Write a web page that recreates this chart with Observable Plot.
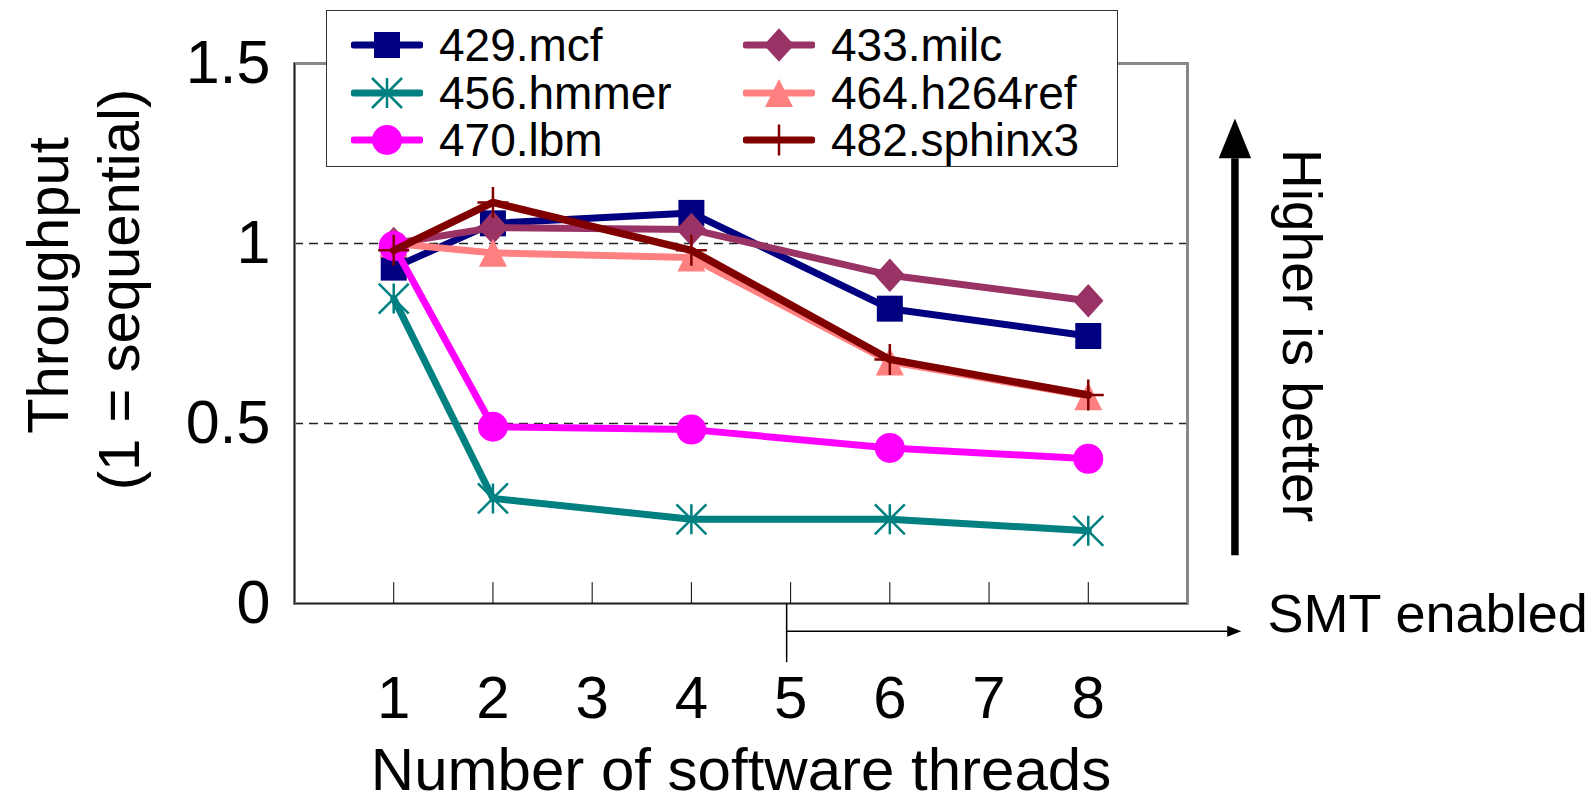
<!DOCTYPE html>
<html>
<head>
<meta charset="utf-8">
<script src="https://cdn.jsdelivr.net/npm/d3@7"></script>
<script src="https://cdn.jsdelivr.net/npm/@observablehq/plot@0.6"></script>
<style>
  html, body { margin: 0; padding: 0; background: #fff; overflow: hidden; }
  #wrap { position: relative; width: 1596px; height: 805px; font-family: "Liberation Sans", Arial, sans-serif; }
  #chart svg { display: block; }
  #legend { position: absolute; left: 326px; top: 10px; width: 792px; height: 157px; box-sizing: border-box;
            border: 1.5px solid #333; background: #fff; }
  .item { position: absolute; height: 48px; display: flex; align-items: center; }
  .item svg { display: block; flex: none; }
  .item span { font-size: 46px; line-height: 48px; color: #000; margin-left: 16px; white-space: nowrap; }
</style>
</head>
<body>
<div id="wrap">
  <div id="chart"></div>
  <div id="legend"></div>
</div>
<script>
// Thread counts measured and the x-axis tick values
const threads = [1, 2, 4, 6, 8];
const xTicks = [1, 2, 3, 4, 5, 6, 7, 8];
const yTicks = [0, 0.5, 1, 1.5];
const gridValues = [0.5, 1];

// Benchmarks (legend order) and throughput relative to sequential
const benchmarks = ["429.mcf", "433.milc", "456.hmmer", "464.h264ref", "470.lbm", "482.sphinx3"];
const mcf    = [0.933, 1.056, 1.085, 0.819, 0.743];
const milc   = [1.000, 1.044, 1.039, 0.912, 0.841];
const hmmer  = [0.847, 0.292, 0.234, 0.234, 0.202];
const h264   = [1.000, 0.974, 0.961, 0.672, 0.576];
const lbm    = [0.993, 0.491, 0.483, 0.432, 0.402];
const sphinx = [0.981, 1.114, 0.981, 0.678, 0.579];
const seriesValues = [mcf, milc, hmmer, h264, lbm, sphinx];

// Styling per series
const colors = ["#000080", "#993366", "#008080", "#FF8080", "#FF00FF", "#800000"];
const lineWidths = [7, 7, 7, 7, 7, 7.5];

// Marker shapes
const rOf = s => Math.sqrt(s / Math.PI);
const squareSym = { draw(c, s) { const r = rOf(s); c.rect(-r, -r, 2 * r, 2 * r); } };
const diamondSym = { draw(c, s) { const r = rOf(s); c.moveTo(0, -r * 1.05); c.lineTo(r * 0.95, 0); c.lineTo(0, r * 1.05); c.lineTo(-r * 0.95, 0); c.closePath(); } };
const circleSym = { draw(c, s) { const r = rOf(s); c.moveTo(r, 0); c.arc(0, 0, r, 0, 2 * Math.PI); c.closePath(); } };
const triangleSym = { draw(c, s) { const r = rOf(s); c.moveTo(0, -r); c.lineTo(r, r); c.lineTo(-r, r); c.closePath(); } };
const asteriskSym = { draw(c, s) { const r = rOf(s); c.moveTo(0, -r); c.lineTo(0, r); c.moveTo(-r, -r); c.lineTo(r, r); c.moveTo(r, -r); c.lineTo(-r, r); } };
const plusSym = { draw(c, s) { const r = rOf(s); c.moveTo(0, -r); c.lineTo(0, r); c.moveTo(-r, 0); c.lineTo(r, 0); } };
const upHead = { draw(c, s) { const r = rOf(s); c.moveTo(0, -r * 2.2); c.lineTo(r * 0.9, 0); c.lineTo(-r * 0.9, 0); c.closePath(); } };
const rightHead = { draw(c, s) { const r = rOf(s); c.moveTo(r * 2.2, 0); c.lineTo(0, -r * 0.85); c.lineTo(0, r * 0.85); c.closePath(); } };

const symbols = [squareSym, diamondSym, asteriskSym, triangleSym, circleSym, plusSym];
const symbolRadius = [13, 16, 15, 14, 15, 15.5];
const filled = [true, true, false, true, true, false];

const font = '"Liberation Sans", Arial, sans-serif';

// One table per benchmark
const tables = benchmarks.map((name, i) =>
  threads.map((t, j) => ({ name, threads: t, value: seriesValues[i][j] }))
);

const seriesMarks = tables.flatMap((rows, i) => [
  Plot.line(rows, { x: "threads", y: "value", stroke: colors[i], strokeWidth: lineWidths[i] }),
  Plot.dot(rows, {
    x: "threads", y: "value", symbol: symbols[i], r: symbolRadius[i],
    fill: filled[i] ? colors[i] : "none",
    stroke: filled[i] ? "none" : colors[i],
    strokeWidth: filled[i] ? 0 : 2.5
  })
]);

// Annotation geometry in chart units
const betterArrow = [{ x: 9.478, y1: 0.134, y2: 1.237 }];
const smtArrow = [{ x1: 4.96, x2: 9.4, y: -0.077, yTick: -0.163 }];

const chart = Plot.plot({
  width: 1596,
  height: 805,
  marginTop: 63,
  marginBottom: 202,
  marginLeft: 294,
  marginRight: 409,
  x: { domain: [0, 9] },
  y: { domain: [0, 1.5] },
  style: { fontFamily: font, fontSize: "60px", background: "transparent", color: "#000", overflow: "visible" },
  marks: [
    Plot.ruleY(gridValues, { stroke: "#222", strokeWidth: 1.3, strokeDasharray: "9,6" }),
    Plot.frame({ stroke: "#888", strokeWidth: 3 }),
    Plot.ruleX([0], { stroke: "#222", strokeWidth: 1.2 }),
    Plot.ruleY([0], { stroke: "#222", strokeWidth: 1.2 }),
    Plot.ruleX(xTicks, { y1: 0, y2: 0.058, stroke: "#000", strokeWidth: 1 }),
    Plot.axisY({ ticks: yTicks, tickSize: 0, tickPadding: 24, fontSize: 61, tickFormat: d => String(d), label: null }),
    Plot.axisX({ ticks: xTicks, tickSize: 0, tickPadding: 72, fontSize: 60, tickFormat: d => String(d), label: null }),
    ...seriesMarks,
    // "Higher is better" arrow
    Plot.link(betterArrow, { x1: "x", x2: "x", y1: "y1", y2: "y2", stroke: "#000", strokeWidth: 7.5 }),
    Plot.dot(betterArrow, { x: "x", y: "y2", symbol: upHead, r: 18, fill: "#000", stroke: "none" }),
    // SMT range marker
    Plot.link(smtArrow, { x1: "x1", x2: "x1", y1: 0, y2: "yTick", stroke: "#000", strokeWidth: 1.5 }),
    Plot.link(smtArrow, { x1: "x1", x2: "x2", y1: "y", y2: "y", stroke: "#000", strokeWidth: 1.5 }),
    Plot.dot(smtArrow, { x: "x2", y: "y", symbol: rightHead, r: 6.4, fill: "#000", stroke: "none" }),
    // Titles and annotations
    Plot.text(["Number of software threads"], { text: d => d, frameAnchor: "bottom", dy: 186, fontSize: 60, fill: "#000" }),
    Plot.text(["Throughput"], { text: d => d, frameAnchor: "left", textAnchor: "middle", dx: -245, dy: -48, rotate: -90, fontSize: 58, fill: "#000" }),
    Plot.text(["(1 = sequential)"], { text: d => d, frameAnchor: "left", textAnchor: "middle", dx: -174, dy: -44, rotate: -90, fontSize: 58, fill: "#000" }),
    Plot.text(["Higher is better"], { text: d => d, frameAnchor: "right", textAnchor: "middle", dx: 113, dy: 2, rotate: 90, fontSize: 55, fill: "#000" }),
    Plot.text(["SMT enabled"], { text: d => d, frameAnchor: "bottom-right", textAnchor: "start", dx: 80, dy: 28, fontSize: 54, fill: "#000" })
  ]
});
document.getElementById("chart").appendChild(chart);

// Legend: two columns, three rows
const legend = d3.select("#legend");
const rowTops = [10, 58, 105];
const colLefts = [24, 416];
benchmarks.forEach((name, i) => {
  const row = Math.floor(i / 2), col = i % 2;
  const item = legend.append("div").attr("class", "item")
    .style("left", colLefts[col] + "px").style("top", rowTops[row] + "px");
  const sw = item.append("svg").attr("width", 72).attr("height", 40);
  sw.append("line").attr("x1", 3).attr("x2", 69).attr("y1", 20).attr("y2", 20)
    .attr("stroke", colors[i]).attr("stroke-width", 7).attr("stroke-linecap", "round");
  const r = symbolRadius[i];
  sw.append("path")
    .attr("transform", "translate(36,20)")
    .attr("d", d3.symbol(symbols[i], Math.PI * r * r)())
    .attr("fill", filled[i] ? colors[i] : "none")
    .attr("stroke", filled[i] ? "none" : colors[i])
    .attr("stroke-width", filled[i] ? 0 : 2.5);
  item.append("span").text(name);
});
</script>
</body>
</html>
